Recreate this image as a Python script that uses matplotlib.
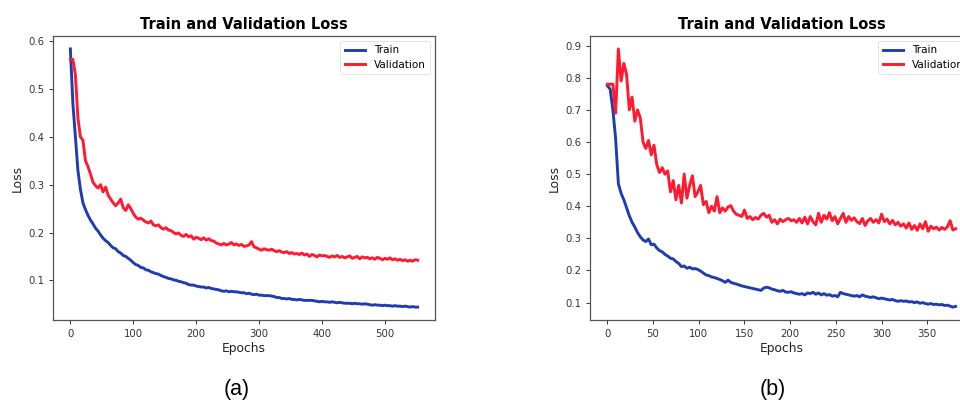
import numpy as np
import matplotlib
matplotlib.use("Agg")
import matplotlib.pyplot as plt

# ---------------- data (a): sampled every 4 epochs ----------------
step_a = 4
train_a = [0.584, 0.47, 0.40, 0.33, 0.29, 0.262, 0.248, 0.236, 0.226, 0.218,
           0.209, 0.203, 0.195, 0.188, 0.183, 0.179, 0.173, 0.168, 0.166, 0.160,
           0.157, 0.152, 0.150, 0.146, 0.142, 0.137, 0.133, 0.131, 0.127, 0.126,
           0.122, 0.121, 0.118, 0.116, 0.114, 0.113, 0.110, 0.108, 0.106, 0.104,
           0.103, 0.101, 0.100, 0.098, 0.097, 0.095, 0.094, 0.091, 0.090, 0.090,
           0.088, 0.087, 0.086, 0.086, 0.084, 0.085, 0.083, 0.082, 0.081, 0.080,
           0.078, 0.077, 0.078, 0.076, 0.077, 0.076, 0.076, 0.075, 0.074, 0.074,
           0.072, 0.073, 0.071, 0.070, 0.071, 0.069, 0.069, 0.068, 0.068, 0.068,
           0.067, 0.066, 0.064, 0.064, 0.062, 0.062, 0.061, 0.062, 0.060, 0.060,
           0.059, 0.060, 0.059, 0.058, 0.058, 0.058, 0.058, 0.057, 0.056, 0.055,
           0.056, 0.055, 0.055, 0.054, 0.055, 0.054, 0.053, 0.054, 0.053, 0.052,
           0.052, 0.052, 0.051, 0.052, 0.051, 0.051, 0.050, 0.051, 0.050, 0.049,
           0.048, 0.049, 0.048, 0.048, 0.047, 0.048, 0.047, 0.047, 0.046, 0.047,
           0.046, 0.046, 0.045, 0.046, 0.045, 0.044, 0.045, 0.044, 0.044]
val_a = [0.562, 0.562, 0.53, 0.44, 0.40, 0.393, 0.35, 0.338, 0.322, 0.305,
         0.298, 0.293, 0.300, 0.285, 0.295, 0.278, 0.270, 0.262, 0.256, 0.262,
         0.270, 0.252, 0.246, 0.258, 0.250, 0.240, 0.232, 0.228, 0.230, 0.226,
         0.222, 0.220, 0.224, 0.216, 0.214, 0.216, 0.210, 0.207, 0.210, 0.205,
         0.204, 0.200, 0.197, 0.199, 0.194, 0.192, 0.196, 0.191, 0.193, 0.186,
         0.190, 0.188, 0.185, 0.189, 0.184, 0.187, 0.183, 0.182, 0.178, 0.176,
         0.174, 0.177, 0.174, 0.176, 0.179, 0.174, 0.176, 0.173, 0.175, 0.171,
         0.172, 0.174, 0.181, 0.170, 0.168, 0.165, 0.163, 0.166, 0.164, 0.163,
         0.165, 0.162, 0.160, 0.162, 0.159, 0.158, 0.160, 0.156, 0.158, 0.155,
         0.156, 0.154, 0.157, 0.153, 0.155, 0.150, 0.154, 0.152, 0.149, 0.153,
         0.151, 0.152, 0.150, 0.148, 0.151, 0.149, 0.152, 0.148, 0.150, 0.147,
         0.149, 0.151, 0.146, 0.148, 0.150, 0.145, 0.149, 0.147, 0.148, 0.145,
         0.147, 0.144, 0.148, 0.146, 0.143, 0.146, 0.144, 0.147, 0.143, 0.145,
         0.142, 0.144, 0.141, 0.143, 0.140, 0.142, 0.140, 0.143, 0.142]

# ---------------- data (b): sampled every 3 epochs ----------------
step_b = 3
train_b = [0.775, 0.765, 0.700, 0.610, 0.470, 0.440, 0.420, 0.395, 0.370, 0.350,
           0.335, 0.318, 0.305, 0.295, 0.290, 0.298, 0.280, 0.282, 0.270, 0.262,
           0.258, 0.250, 0.245, 0.238, 0.236, 0.228, 0.222, 0.212, 0.214, 0.207,
           0.210, 0.205, 0.206, 0.203, 0.198, 0.192, 0.186, 0.184, 0.180, 0.178,
           0.175, 0.172, 0.168, 0.163, 0.170, 0.163, 0.160, 0.158, 0.155, 0.152,
           0.150, 0.148, 0.146, 0.144, 0.142, 0.140, 0.138, 0.145, 0.148, 0.146,
           0.142, 0.140, 0.137, 0.135, 0.138, 0.133, 0.132, 0.134, 0.130, 0.128,
           0.126, 0.128, 0.124, 0.130, 0.128, 0.132, 0.126, 0.130, 0.124, 0.128,
           0.123, 0.125, 0.120, 0.122, 0.118, 0.132, 0.128, 0.126, 0.124, 0.122,
           0.120, 0.122, 0.118, 0.124, 0.120, 0.118, 0.116, 0.118, 0.115, 0.112,
           0.114, 0.112, 0.110, 0.108, 0.110, 0.106, 0.104, 0.106, 0.104, 0.105,
           0.102, 0.103, 0.100, 0.102, 0.098, 0.100, 0.097, 0.095, 0.097, 0.094,
           0.095, 0.093, 0.094, 0.091, 0.092, 0.089, 0.086, 0.088]
val_b = [0.780, 0.780, 0.780, 0.690, 0.890, 0.790, 0.845, 0.810, 0.700, 0.740,
         0.665, 0.700, 0.675, 0.600, 0.580, 0.605, 0.560, 0.590, 0.530, 0.505,
         0.520, 0.500, 0.510, 0.445, 0.480, 0.420, 0.465, 0.410, 0.500, 0.425,
         0.465, 0.495, 0.430, 0.445, 0.465, 0.405, 0.415, 0.380, 0.400, 0.385,
         0.430, 0.380, 0.395, 0.385, 0.398, 0.402, 0.385, 0.375, 0.372, 0.368,
         0.388, 0.362, 0.368, 0.358, 0.365, 0.360, 0.372, 0.378, 0.366, 0.372,
         0.350, 0.358, 0.345, 0.360, 0.352, 0.358, 0.362, 0.355, 0.358, 0.350,
         0.362, 0.348, 0.366, 0.345, 0.368, 0.352, 0.342, 0.378, 0.350, 0.372,
         0.360, 0.380, 0.355, 0.368, 0.345, 0.362, 0.378, 0.350, 0.368, 0.356,
         0.364, 0.352, 0.346, 0.362, 0.340, 0.355, 0.362, 0.350, 0.358, 0.348,
         0.375, 0.352, 0.360, 0.345, 0.356, 0.342, 0.350, 0.338, 0.345, 0.332,
         0.348, 0.328, 0.340, 0.325, 0.345, 0.330, 0.352, 0.322, 0.338, 0.330,
         0.335, 0.326, 0.334, 0.328, 0.336, 0.355, 0.326, 0.330]

title = "Train and Validation Loss"
xlabel = "Epochs"
ylabel = "Loss"
captions = ["(a)", "(b)"]
xticks_a = [0, 100, 200, 300, 400, 500]
xticks_b = [0, 50, 100, 150, 200, 250, 300, 350]
yticks_a = [0.1, 0.2, 0.3, 0.4, 0.5, 0.6]
yticks_b = [0.1, 0.2, 0.3, 0.4, 0.5, 0.6, 0.7, 0.8, 0.9]

BLUE = "#1f3db0"
RED = "#ff1a30"

fig = plt.figure(figsize=(9.6, 4.01), dpi=100)

ax_a = fig.add_axes([53 / 960, 81 / 401, 382 / 960, 284 / 401])
ax_b = fig.add_axes([590 / 960, 81 / 401, 383 / 960, 284 / 401])

panels = [
    (ax_a, step_a, train_a, val_a, xticks_a, yticks_a),
    (ax_b, step_b, train_b, val_b, xticks_b, yticks_b),
]

for ax, step, tr, va, xt, yt in panels:
    ep_t = np.arange(len(tr)) * step
    ep_v = np.arange(len(va)) * step
    ax.plot(ep_t, tr, color=BLUE, lw=2.1, label="Train")
    ax.plot(ep_v, va, color=RED, lw=2.1, label="Validation")
    ax.set_xticks(xt)
    ax.set_yticks(yt)
    ax.tick_params(labelsize=7.3, colors="#333333", length=2.8, width=0.7)
    for s in ax.spines.values():
        s.set_color("#555555")
        s.set_linewidth(0.9)
    ax.set_title(title, fontsize=10.5, fontweight="bold", pad=5)
    ax.set_xlabel(xlabel, fontsize=8.8, color="#222222", labelpad=2)
    ax.set_ylabel(ylabel, fontsize=8.8, color="#222222", labelpad=3)
    leg = ax.legend(loc="upper right", fontsize=7.5, frameon=True,
                    handlelength=2.0, borderpad=0.4, labelspacing=0.45)
    leg.get_frame().set_edgecolor("#dddddd")
    leg.get_frame().set_linewidth(0.7)

fig.text(237 / 960, 1 - 389 / 401, captions[0], fontsize=15.5,
         family="Liberation Sans", ha="center", va="center")
fig.text(773 / 960, 1 - 389 / 401, captions[1], fontsize=15.5,
         family="Liberation Sans", ha="center", va="center")

fig.savefig("out.png", dpi=100)
